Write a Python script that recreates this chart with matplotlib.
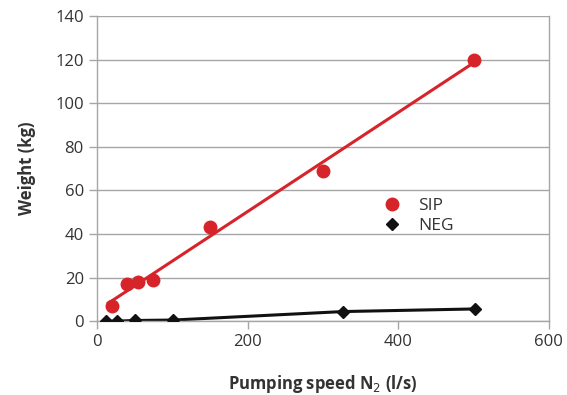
import numpy as np
import matplotlib
matplotlib.use("Agg")
import matplotlib.pyplot as plt

plt.rcParams['font.family'] = ['Open Sans', 'DejaVu Sans']

sip_x = [20, 40, 55, 75, 150, 300, 500]
sip_y = [7, 17, 18, 19, 43, 69, 120]
neg_x = [12, 26, 51, 101, 327, 502]
neg_y = [0.0, 0.0, 0.3, 0.5, 4.4, 5.6]
x_ticks = [0, 200, 400, 600]
y_ticks = [0, 20, 40, 60, 80, 100, 120, 140]

fig = plt.figure(figsize=(5.67, 3.95), dpi=100)
ax = fig.add_axes([0.171, 0.187, 0.797, 0.772])

grid_c = '#a6a6a6'
for y in y_ticks:
    ax.axhline(y, color=grid_c, lw=1.0, zorder=0)

# trend line for SIP
coef = np.polyfit(sip_x, sip_y, 1)
tx = np.array([15, 500])
ax.plot(tx, np.polyval(coef, tx), color='#d7242a', lw=2.2, zorder=2)
ax.plot(sip_x, sip_y, 'o', color='#d7242a', ms=9, zorder=3, label='SIP')
ax.plot(neg_x, neg_y, '-', color='#111111', lw=2.2, zorder=2)
ax.plot(neg_x, neg_y, 'D', color='#111111', ms=6, zorder=3, label='NEG')

ax.set_xlim(0, 600)
ax.set_ylim(0, 140)
ax.set_xticks(x_ticks)
ax.set_yticks(y_ticks)
for s in ['top']:
    ax.spines[s].set_visible(False)
for s in ['left', 'right', 'bottom']:
    ax.spines[s].set_color(grid_c)
    ax.spines[s].set_linewidth(1.0)
ax.tick_params(axis='both', colors=grid_c, labelcolor='#333333', labelsize=12, length=6, width=1.0)
ax.set_xlabel('Pumping speed N$_2$ (l/s)', fontsize=12, fontweight='bold', color='#333333', labelpad=16)
ax.set_ylabel('Weight (kg)', fontsize=12, fontweight='bold', color='#333333', labelpad=14)

ax.legend(loc='center left', bbox_to_anchor=(0.6, 0.345), frameon=False, fontsize=12.5,
          handletextpad=1.0, labelspacing=0.2, handlelength=1.0, labelcolor='#333333')

fig.savefig('out.png', dpi=100)
